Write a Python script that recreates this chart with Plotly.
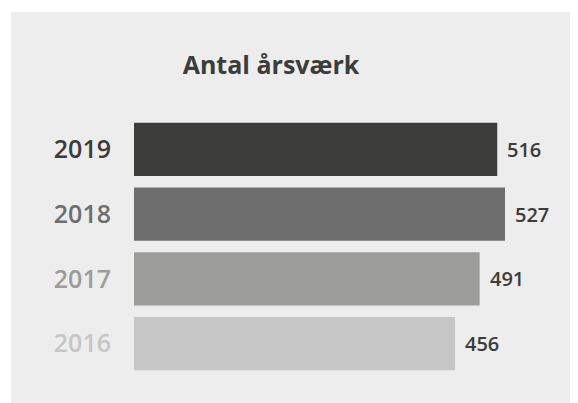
import plotly.graph_objects as go

years = ["2016", "2017", "2018", "2019"]
values = [456, 491, 527, 516]
bar_colors = ["#c6c6c6", "#9c9c9b", "#6e6e6e", "#3c3c3b"]
label_colors = ["#c6c6c6", "#9c9c9b", "#6e6e6e", "#3c3c3b"]
title_text = "Antal årsværk"

# page has an 8px body margin
OFF = 8
W, H = 578 - OFF, 403 - OFF
ml, mr, mt, mb = 134 - OFF, 30, 117 - OFF, 27
pw = W - ml - mr
ph = H - mt - mb

fig = go.Figure(go.Bar(
    x=values, y=years, orientation="h",
    marker=dict(color=bar_colors, line=dict(width=0)),
    width=0.82,
    hoverinfo="skip",
))

for i, v in enumerate(values):
    fig.add_annotation(x=v, y=i, xref="x", yref="y", text=str(v),
                       showarrow=False, xanchor="left", yanchor="middle", xshift=8,
                       font=dict(family="Open Sans", size=20, color="#3c3c3b", weight=600))

ticktext = [f"<span style='color:{c}'>{y}</span>" for y, c in zip(years, label_colors)]

fig.update_layout(
    width=W, height=H,
    margin=dict(l=ml, r=mr, t=mt, b=mb),
    paper_bgcolor="white", plot_bgcolor="#ededed",
    showlegend=False,
    title=dict(text=title_text, x=(271 - OFF) / W, xanchor="center", xref="container",
               y=1 - (65 - OFF) / H, yanchor="middle", yref="container",
               font=dict(family="Open Sans", size=25, color="#3c3c3b", weight=700)),
    xaxis=dict(range=[0, pw / 0.704], visible=False, showgrid=False, zeroline=False),
    yaxis=dict(type="category", categoryorder="array", categoryarray=years,
               range=[-0.5, 3.5], tickmode="array", tickvals=years, ticktext=ticktext,
               showgrid=False, zeroline=False, showline=False, ticks="",
               ticklabelstandoff=22,
               tickfont=dict(family="Open Sans", size=25, weight=600)),
    shapes=[dict(type="rect", xref="paper", yref="paper", layer="below",
                 x0=(11 - 134) / pw, x1=(W - ml) / pw,
                 y0=(ph + mt - H) / ph, y1=(ph + mt - (12 - OFF)) / ph,
                 fillcolor="#ededed", line=dict(width=0))],
)

fig.write_html("out.html")
